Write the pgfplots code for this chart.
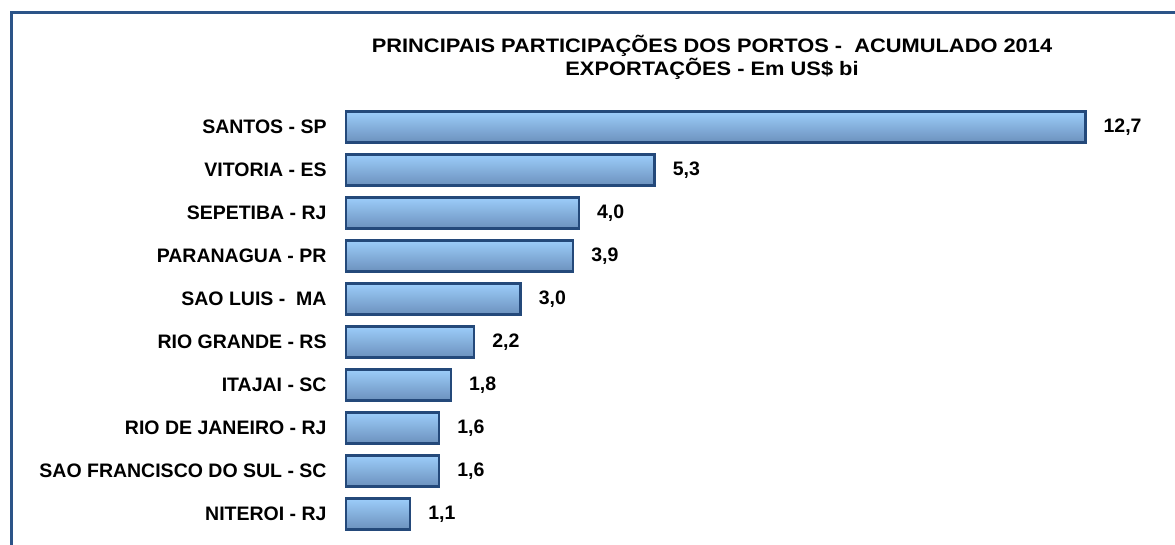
\documentclass[border=0pt]{standalone}
\usepackage{pgfplots}
\pgfplotsset{compat=1.18}
\usepackage{fontspec}
\setmainfont{Liberation Sans}
\newfontfamily\titlefont[FakeStretch=1.12]{Liberation Sans}
\definecolor{barborder}{HTML}{24497A}
\definecolor{framecol}{HTML}{2C5488}
\definecolor{bartop}{HTML}{9CCDFA}
\definecolor{barbot}{HTML}{6C91BD}
\pgfplotsset{mybar/.style={draw=barborder, line width=2.5pt, top color=bartop, bottom color=barbot}}
\begin{document}
\begin{tikzpicture}[x=1pt,y=1pt]
\useasboundingbox (0,0) rectangle (1175,544);
\draw[framecol, line width=3pt] (11.5,-5) -- (11.5,531.5) -- (1185,531.5);
\node[font=\titlefont\bfseries\fontsize{19.5}{23}\selectfont, align=center] at (712,487) {PRINCIPAIS PARTICIPAÇÕES DOS PORTOS -\ \ ACUMULADO 2014\\EXPORTAÇÕES - Em US\$ bi};
\begin{axis}[
  at={(346pt,0pt)}, anchor=south west,
  scale only axis, width=829pt, height=438.5pt,
  xmin=0, xmax=14.24, ymin=-0.7, ymax=9.5,
  axis line style={draw=none},
  tick style={draw=none},
  xtick=\empty,
  ytick={0,...,9},
  yticklabels={NITEROI - RJ, SAO FRANCISCO DO SUL - SC, RIO DE JANEIRO - RJ, ITAJAI - SC, RIO GRANDE - RS, SAO LUIS -\ \ MA, PARANAGUA - PR, SEPETIBA - RJ, VITORIA - ES, SANTOS - SP},
  yticklabel style={font=\bfseries\fontsize{19.5}{22}\selectfont, inner sep=0pt, xshift=-15pt},
  xbar, bar width=31pt, bar shift=0pt,
  nodes near coords={\pgfmathprintnumber[fixed, fixed zerofill, precision=1, use comma, assume math mode=true]{\pgfplotspointmeta}},
  nodes near coords align={horizontal},
  every node near coord/.append style={font=\bfseries\fontsize{19.5}{22}\selectfont, text=black, inner sep=0pt, xshift=17pt},
  clip=false,
]
\addplot[mybar] coordinates {(1.1,0)};
\addplot[mybar] coordinates {(1.6,1)};
\addplot[mybar] coordinates {(1.6,2)};
\addplot[mybar] coordinates {(1.8,3)};
\addplot[mybar] coordinates {(2.2,4)};
\addplot[mybar] coordinates {(3.0,5)};
\addplot[mybar] coordinates {(3.9,6)};
\addplot[mybar] coordinates {(4.0,7)};
\addplot[mybar] coordinates {(5.3,8)};
\addplot[mybar] coordinates {(12.7,9)};
\end{axis}
\end{tikzpicture}
\end{document}
